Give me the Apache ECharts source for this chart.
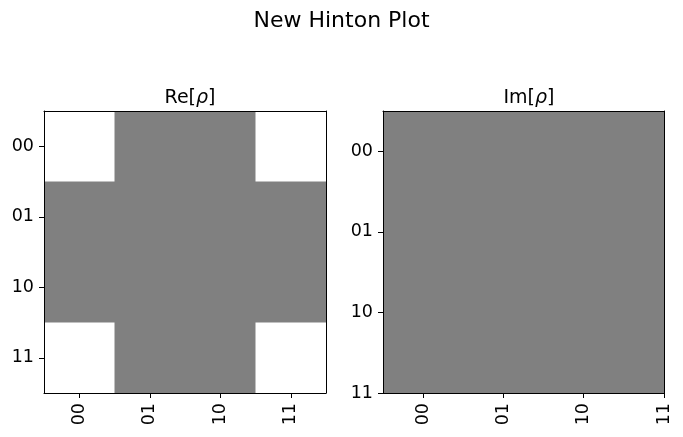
<!DOCTYPE html>
<html>
<head>
<meta charset="UTF-8">
<title>New Hinton Plot</title>
<script src="https://cdn.jsdelivr.net/npm/echarts@6.0.0/dist/echarts.min.js"></script>
<style>
    html, body { margin: 0; padding: 0; background: #fff; }
    #chart { width: 683px; height: 437px; }
</style>
</head>
<body>
<div id="chart"></div>
<script>
// basis state labels and density matrix parts (rows = y, cols = x)
const labels = ['00', '01', '10', '11'];
const reRho = [
    [0.5, 0, 0, 0.5],
    [0,   0, 0, 0  ],
    [0,   0, 0, 0  ],
    [0.5, 0, 0, 0.5]
];
const imRho = [
    [0, 0, 0, 0],
    [0, 0, 0, 0],
    [0, 0, 0, 0],
    [0, 0, 0, 0]
];
const tickPos = [0.5, 1.5, 2.5, 3.5];

const FONT = 'DejaVu Sans';
const TICK_FS = 17.5;
const SUB_FS = 19;

function toPoints(mat) {
    const pts = [];
    mat.forEach((row, y) => row.forEach((v, x) => pts.push([x + 0.5, y + 0.5, v])));
    return pts;
}

function maxWeight(mat) {
    let m = 0;
    mat.forEach(row => row.forEach(v => { m = Math.max(m, Math.abs(v)); }));
    return m;
}

function hintonSeries(mat, idx) {
    const mw = maxWeight(mat);
    return {
        type: 'custom',
        xAxisIndex: idx * 2,
        yAxisIndex: idx * 2,
        data: toPoints(mat),
        z: 2,
        renderItem: function (params, api) {
            const v = api.value(2);
            if (!mw || !v) return;
            const c = api.coord([api.value(0), api.value(1)]);
            const cell = api.size([1, 1]);
            const s = Math.sqrt(Math.abs(v) / mw);
            const w = cell[0] * s, h = cell[1] * s;
            return {
                type: 'rect',
                shape: { x: c[0] - w / 2, y: c[1] - h / 2, width: w, height: h },
                style: { fill: v > 0 ? '#ffffff' : '#000000' }
            };
        }
    };
}

function mainX(grid, max) {
    return {
        type: 'value', gridIndex: grid, min: 0, max: max, z: 5,
        axisLine: { show: true, onZero: false, lineStyle: { color: '#000', width: 1 } },
        axisTick: { show: true, length: 5, customValues: tickPos, lineStyle: { color: '#000' } },
        axisLabel: {
            show: true, rotate: 90, margin: 10, customValues: tickPos,
            fontFamily: FONT, fontSize: TICK_FS, color: '#000',
            formatter: v => labels[Math.round(v - 0.5)]
        },
        splitLine: { show: false }
    };
}
function mainY(grid, max) {
    return {
        type: 'value', gridIndex: grid, min: 0, max: max, inverse: true, z: 5,
        axisLine: { show: true, onZero: false, lineStyle: { color: '#000', width: 1 } },
        axisTick: { show: true, length: 5, customValues: tickPos, lineStyle: { color: '#000' } },
        axisLabel: {
            show: true, margin: 10, customValues: tickPos,
            fontFamily: FONT, fontSize: TICK_FS, color: '#000',
            formatter: v => labels[Math.round(v - 0.5)]
        },
        splitLine: { show: false }
    };
}
function frameAxis(grid, max, pos, inverse) {
    return {
        type: 'value', gridIndex: grid, min: 0, max: max, position: pos, inverse: inverse, z: 5,
        axisLine: { show: true, onZero: false, lineStyle: { color: '#000', width: 1 } },
        axisTick: { show: false }, axisLabel: { show: false }, splitLine: { show: false }
    };
}

function subTitle(text, x) {
    return {
        text: text, left: x, top: 84, textAlign: 'center',
        textStyle: {
            fontFamily: FONT, fontSize: SUB_FS, fontWeight: 'normal', color: '#000',
            rich: {
                t: { fontFamily: FONT, fontSize: SUB_FS, color: '#000' },
                i: { fontFamily: FONT, fontSize: SUB_FS, fontStyle: 'italic', color: '#000' }
            }
        }
    };
}

const chart = echarts.init(document.getElementById('chart'));
chart.setOption({
    animation: false,
    backgroundColor: '#ffffff',
    title: [
        { text: 'New Hinton Plot', left: 'center', top: 5,
          textStyle: { fontFamily: FONT, fontSize: 22, fontWeight: 'normal', color: '#000' } },
        subTitle('{t|Re[}{i|ρ}{t|]}', 185),
        subTitle('{t|Im[}{i|ρ}{t|]}', 524)
    ],
    grid: [
        { left: 44, top: 111, width: 282, height: 282, show: true, backgroundColor: '#808080', borderWidth: 0 },
        { left: 383, top: 111, width: 281, height: 282, show: true, backgroundColor: '#808080', borderWidth: 0 }
    ],
    xAxis: [
        mainX(0, 4), frameAxis(0, 4, 'top', false),
        mainX(1, 3.5), frameAxis(1, 3.5, 'top', false)
    ],
    yAxis: [
        mainY(0, 4), frameAxis(0, 4, 'right', true),
        mainY(1, 3.5), frameAxis(1, 3.5, 'right', true)
    ],
    series: [hintonSeries(reRho, 0), hintonSeries(imRho, 1)]
});
</script>
</body>
</html>
